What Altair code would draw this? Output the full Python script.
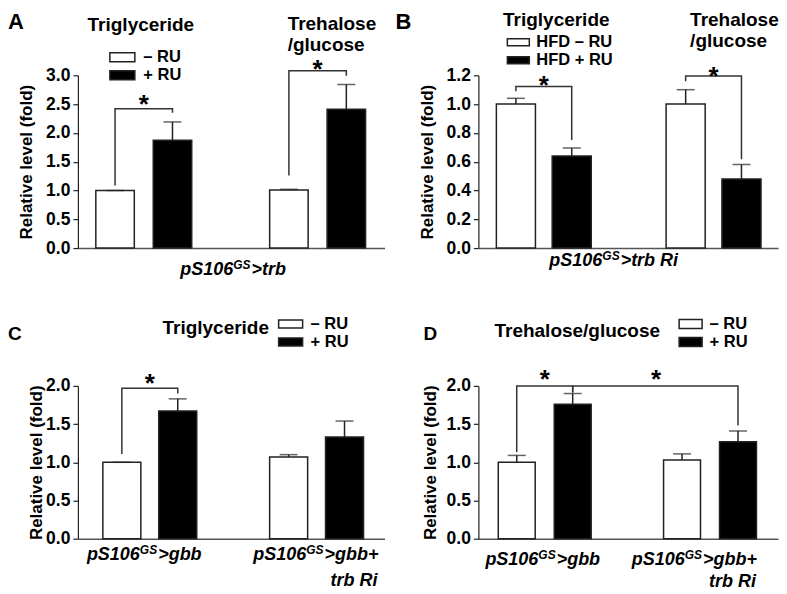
import altair as alt
import pandas as pd

FONT = "Liberation Sans"
INK = "#222222"

# ---------------- data ----------------
COND = ["– RU", "+ RU"]
COND_B = ["HFD – RU", "HFD + RU"]
GROUPS_AB = ["Triglyceride", "Trehalose/glucose"]
GROUPS_CD = ["pS106GS>gbb", "pS106GS>gbb+trb Ri"]

A_MINUS = [1.00, 1.01]
A_MINUS_ERR = [1.00, 1.02]
A_PLUS = [1.87, 2.41]
A_PLUS_ERR = [2.19, 2.84]

B_MINUS = [1.00, 1.00]
B_MINUS_ERR = [1.04, 1.10]
B_PLUS = [0.64, 0.48]
B_PLUS_ERR = [0.695, 0.58]

C_MINUS = [1.00, 1.07]
C_MINUS_ERR = [1.00, 1.10]
C_PLUS = [1.67, 1.33]
C_PLUS_ERR = [1.83, 1.54]

D_MINUS = [1.00, 1.03]
D_MINUS_ERR = [1.09, 1.11]
D_PLUS = [1.76, 1.27]
D_PLUS_ERR = [1.90, 1.41]

TICKS_A = [0.0, 0.5, 1.0, 1.5, 2.0, 2.5, 3.0]
TICKS_B = [0.0, 0.2, 0.4, 0.6, 0.8, 1.0, 1.2]
TICKS_CD = [0.0, 0.5, 1.0, 1.5, 2.0]

# significance brackets: (left group, left cond), (right group, right cond), left leg end, top, right leg end
BRK_A = [((0, 0), (0, 1), 1.085, 2.42, 2.35), ((1, 0), (1, 1), 1.26, 3.08, 2.99)]
BRK_B = [((0, 0), (0, 1), 1.09, 1.123, 0.75), ((1, 0), (1, 1), 1.158, 1.195, 0.616)]
BRK_C = [((0, 0), (0, 1), 1.11, 1.97, 1.90)]
BRK_D = [((0, 0), (0, 1), 1.134, 2.00, 1.913), ((0, 1), (1, 1), 1.913, 2.00, 1.48)]

# star heights (one per group, centred over the group)
STAR_A = [2.59, 3.19]
STAR_B = [1.165, 1.23]
STAR_C = [2.10]
STAR_D = [2.15]
STAR_D_CROSS = [2.15]

Y_TITLE = "Relative level (fold)"
TITLE_TG = "Triglyceride"
TITLE_TRE = "Trehalose\n/glucose"
TITLE_TRE1 = "Trehalose/glucose"
XLAB_A = ("pS106", "GS", ">trb")
XLAB_B = ("pS106", "GS", ">trb Ri")
XLAB_G1 = ("pS106", "GS", ">gbb")
XLAB_G2 = ("pS106", "GS", ">gbb+")
XLAB_G2_LINE2 = "trb Ri"

# Arial/Liberation bold-italic advance widths (per 1000 em)
WID = {"p": 611, "S": 667, "1": 556, "0": 556, "6": 556, "G": 778, ">": 584,
       "t": 333, "r": 389, "b": 611, "g": 611, "+": 584, " ": 278, "R": 722, "i": 278}

TITLE_SIZE = 19
XLAB_SIZE = 18
LETTER_BIG = 22
LETTER_SMALL = 19
LEG_SIZE = 16.5


def tw(s, size):
    return sum(WID.get(c, 556) for c in s) / 1000.0 * size


def label(text, x, y, size, align="left", style="normal", weight="bold", line_height=None):
    props = dict(align=align, baseline="alphabetic", font=FONT, fontSize=size,
                 fontWeight=weight, fontStyle=style, color="black")
    if line_height:
        props["lineBreak"] = "\n"
        props["lineHeight"] = line_height
    return alt.Chart(pd.DataFrame({"t": [text]})).mark_text(**props).encode(
        x=alt.value(x), y=alt.value(y), text="t:N")


def genotype(parts, x, y, align="left", size=XLAB_SIZE, supsize=12):
    pre, sup, suf = parts
    w1, w2, w3 = tw(pre, size), tw(sup, supsize), tw(suf, size)
    total = w1 + w2 + w3
    x0 = x - total / 2 if align == "center" else (x - total if align == "right" else x)
    return [label(pre, x0, y, size, style="italic"),
            label(sup, x0 + w1, y - 6, supsize, style="italic"),
            label(suf, x0 + w1 + w2 + 1, y, size, style="italic")]


def panel(groups, conds, minus, minus_err, plus, plus_err, ymax, ticks, brackets,
          stars, geo, W, H, leg, ytpad, extra, cross=None):
    rows = []
    for i, g in enumerate(groups):
        rows.append(dict(group=g, cond=conds[0], value=minus[i], err=minus_err[i]))
        rows.append(dict(group=g, cond=conds[1], value=plus[i], err=plus_err[i]))
    df = pd.DataFrame(rows)

    brows = []
    for b, (l, r, ylo_l, ytop, ylo_r) in enumerate(brackets):
        pts = [(l, ylo_l), (l, ytop), (r, ytop), (r, ylo_r)]
        for k, ((gi, ci), yy) in enumerate(pts):
            brows.append(dict(bid=b, k=k, group=groups[gi], cond=conds[ci], y=yy))
    bdf = pd.DataFrame(brows)

    sdf = pd.DataFrame({"group": [groups[i] for i in range(len(stars))], "y": stars})

    xs = alt.Scale(type="band", domain=groups, paddingInner=geo[0], paddingOuter=geo[1], align=geo[2])
    xos = alt.Scale(type="band", domain=conds, paddingInner=geo[3], paddingOuter=0)
    ys = alt.Scale(domain=[0, ymax], nice=False, zero=True)

    xaxis = alt.Axis(labels=False, ticks=False, title=None, grid=False,
                     domainColor="#555555", domainWidth=1.5)
    yaxis = alt.Axis(values=ticks, format=".1f", title=Y_TITLE, titlePadding=ytpad,
                     grid=False, domainColor=INK, domainWidth=1.2, tickColor=INK,
                     tickWidth=1.2, tickSize=5, labelFont=FONT, labelFontSize=17.5,
                     labelFontWeight="bold", labelColor="black", labelPadding=3,
                     labelFlush=False, labelOverlap=False, titleFont=FONT,
                     titleFontSize=17, titleFontWeight="bold", titleColor="black")

    def X():
        return alt.X("group:N", scale=xs, axis=xaxis, sort=groups, title=None)

    def XO():
        return alt.XOffset("cond:N", scale=xos, sort=conds)

    def Y(f):
        return alt.Y(f, scale=ys, axis=yaxis, title=Y_TITLE)

    # legend: wide flat box symbols
    s = leg[2] / 2.0
    half_w = 8.0
    path = "M-%.4f,-%.4fH%.4fV%.4fH-%.4fZ" % (s / half_w, leg[3] / half_w, s / half_w,
                                             leg[3] / half_w, s / half_w)
    legend = alt.Legend(orient="none", legendX=leg[0], legendY=leg[1], title=None,
                        direction="vertical", symbolType=path, symbolSize=256,
                        symbolOffset=s - half_w,
                        symbolStrokeColor=INK, symbolStrokeWidth=1.5, labelFont=FONT,
                        labelFontSize=LEG_SIZE, labelFontWeight="bold", labelColor="black",
                        labelOffset=3 + 2 * (s - half_w), rowPadding=leg[4], padding=0)

    bars = alt.Chart(df).mark_bar(stroke=INK, strokeWidth=1.5).encode(
        x=X(), xOffset=XO(), y=Y("value:Q"),
        fill=alt.Fill("cond:N", scale=alt.Scale(domain=conds, range=["white", "black"]),
                      legend=legend),
    )
    err = alt.Chart(df).mark_rule(color=INK, strokeWidth=1.5).encode(
        x=X(), xOffset=XO(), y=Y("value:Q"), y2="err:Q",
    )
    caps = alt.Chart(df).mark_tick(color=INK, thickness=1.5, size=18, orient="horizontal").encode(
        x=X(), xOffset=XO(), y=Y("err:Q"),
    )
    brk = alt.Chart(bdf).mark_line(color="#333333", strokeWidth=1.5).encode(
        x=X(), xOffset=XO(), y=Y("y:Q"), detail="bid:N", order="k:Q",
    )
    st = alt.Chart(sdf).mark_text(text="*", font=FONT, fontSize=26, fontWeight="bold",
                                  baseline="alphabetic", dy=14, color="black").encode(
        x=X(), y=Y("y:Q"),
    )
    layers = [bars, err, caps, brk, st]
    if cross is not None:
        cdf = pd.DataFrame({"group": [groups[cross[0]]], "y": cross[1]})
        layers.append(alt.Chart(cdf).mark_text(
            text="*", font=FONT, fontSize=26, fontWeight="bold", baseline="alphabetic",
            dy=14, dx=cross[2], color="black").encode(x=X(), y=Y("y:Q")))
    layers += extra
    return alt.layer(*layers).properties(width=W, height=H)


# ---------------- panels ----------------
WA, WB, H0, H1 = 307, 300, 173, 153

extraA = [label("A", -70, -46, LETTER_BIG), label(TITLE_TG, 63, -44, TITLE_SIZE, align="center"),
          label(TITLE_TRE, 210, -45, TITLE_SIZE, line_height=21)] + genotype(XLAB_A, 155, 200, "center")
pA = panel(GROUPS_AB, COND, A_MINUS, A_MINUS_ERR, A_PLUS, A_PLUS_ERR, 3.0, TICKS_A, BRK_A,
           STAR_A, (0.4483, 0.106, 0.486, 0.33), WA, H0, (31, -27, 25, 4.5, -5), 10, extraA)

extraB = [label("B", -83, -46, LETTER_BIG), label(TITLE_TG, 78, -49, TITLE_SIZE, align="center"),
          label(TITLE_TRE, 212, -49, TITLE_SIZE, line_height=21)] + genotype(XLAB_B, 135, 191, "center")
pB = panel(GROUPS_AB, COND_B, B_MINUS, B_MINUS_ERR, B_PLUS, B_PLUS_ERR, 1.2, TICKS_B, BRK_B,
           STAR_B, (0.441, 0.103, 0.514, 0.30), WB, H0, (28, -42, 22, 3.5, -5), 10, extraB)

extraC = [label("C", -70, -46, LETTER_SMALL), label(TITLE_TG, 138, -52, TITLE_SIZE, align="center")] \
    + genotype(XLAB_G1, 9, 174) + genotype(XLAB_G2, 300, 174, "right") \
    + [label(XLAB_G2_LINE2, 300, 200, XLAB_SIZE, align="right", style="italic")]
pC = panel(GROUPS_CD, COND, C_MINUS, C_MINUS_ERR, C_PLUS, C_PLUS_ERR, 2.0, TICKS_CD, BRK_C,
           STAR_C, (0.437, 0.1377, 0.543, 0.32), WA, H1, (200, -71, 24, 4.0, -3), 0, extraC)

extraD = [label("D", -55, -46, LETTER_SMALL), label(TITLE_TRE1, 99, -49, TITLE_SIZE, align="center")] \
    + genotype(XLAB_G1, 7, 179) + genotype(XLAB_G2, 278, 179, "right") \
    + [label(XLAB_G2_LINE2, 278, 201, XLAB_SIZE, align="right", style="italic")]
pD = panel(GROUPS_CD, COND, D_MINUS, D_MINUS_ERR, D_PLUS, D_PLUS_ERR, 2.0, TICKS_CD, BRK_D,
           STAR_D, (0.438, 0.1253, 0.48, 0.34), WB, H1, (200, -71, 23, 4.5, -3), 7, extraD,
           cross=(1, STAR_D_CROSS, -54))

chart = alt.concat(pA, pB, pC, pD, columns=2, spacing={"row": 138, "column": 94},
                   bounds="flush").resolve_scale(
    x="independent", y="independent", xOffset="independent", fill="independent"
).resolve_legend(fill="independent").properties(
    padding={"top": 3, "left": 0, "right": 0, "bottom": 0}, background="white"
).configure_view(stroke=None)

chart.save("out.html", embed_options={"renderer": "svg", "actions": False})
